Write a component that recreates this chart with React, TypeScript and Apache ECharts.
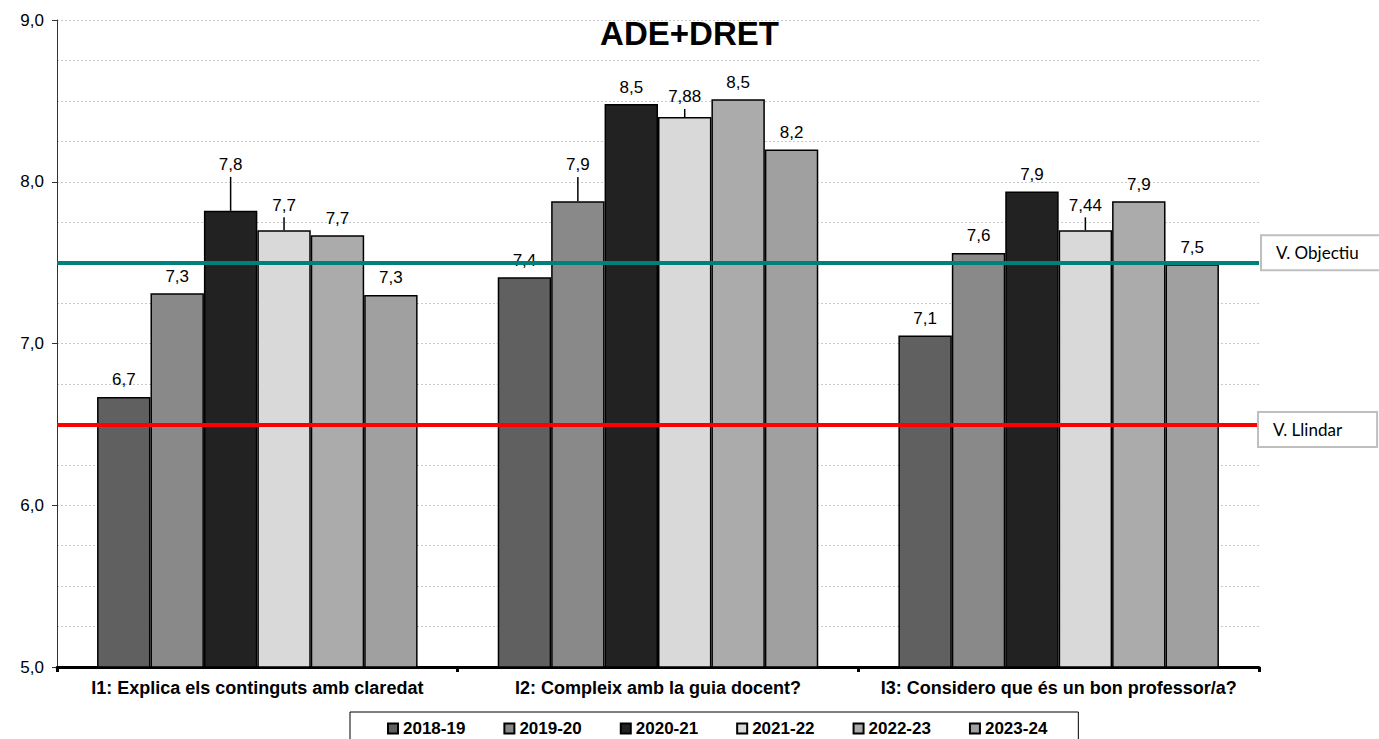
import React, { useEffect, useRef } from "react";
import * as echarts from "echarts";

const title = "ADE+DRET";
const categories = [
  "I1: Explica els continguts amb claredat",
  "I2: Compleix amb la guia docent?",
  "I3: Considero que és un bon professor/a?",
];
const years = ["2018-19", "2019-20", "2020-21", "2021-22", "2022-23", "2023-24"];

const values2018_19 = [6.67, 7.41, 7.05];
const values2019_20 = [7.31, 7.88, 7.56];
const values2020_21 = [7.82, 8.48, 7.94];
const values2021_22 = [7.7, 8.4, 7.7];
const values2022_23 = [7.67, 8.51, 7.88];
const values2023_24 = [7.3, 8.2, 7.49];

const labels2018_19 = ["6,7", "7,4", "7,1"];
const labels2019_20 = ["7,3", "7,9", "7,6"];
const labels2020_21 = ["7,8", "8,5", "7,9"];
const labels2021_22 = ["7,7", "7,88", "7,44"];
const labels2022_23 = ["7,7", "8,5", "7,9"];
const labels2023_24 = ["7,3", "8,2", "7,5"];

// upper end of the error bar (null = no error bar)
const errTop2018_19 = [null, null, null];
const errTop2019_20 = [null, 8.03, null];
const errTop2020_21 = [8.03, null, null];
const errTop2021_22 = [7.78, 8.45, 7.78];
const errTop2022_23 = [null, null, null];
const errTop2023_24 = [null, null, null];

const objectiuValue = 7.5;
const llindarValue = 6.5;
const yTicks = [5, 6, 7, 8, 9];

const seriesValues = [values2018_19, values2019_20, values2020_21, values2021_22, values2022_23, values2023_24];
const seriesLabels = [labels2018_19, labels2019_20, labels2020_21, labels2021_22, labels2022_23, labels2023_24];
const seriesErr = [errTop2018_19, errTop2019_20, errTop2020_21, errTop2021_22, errTop2022_23, errTop2023_24];
const colors = ["#606060", "#898989", "#222222", "#d9d9d9", "#ababab", "#a0a0a0"];

const FONT = "'Liberation Sans', Arial, sans-serif";

export default function App() {
  const ref = useRef<HTMLDivElement>(null);
  useEffect(() => {
    const chart = echarts.init(ref.current!, null, { renderer: "svg" });
    const nSeries = years.length;
    const annData: number[][] = [];
    const annLabels: string[] = [];
    years.forEach((_, s) => {
      categories.forEach((_, k) => {
        const v = seriesValues[s][k];
        const e = seriesErr[s][k];
        annData.push([k, s, v, e == null ? v : e, e == null ? 0 : 1]);
        annLabels.push(seriesLabels[s][k]);
      });
    });

    const barSeries = years.map((y, i) => ({
      name: y,
      type: "bar",
      data: seriesValues[i],
      barGap: "0%",
      barCategoryGap: "20%",
      itemStyle: { color: colors[i], borderColor: "#000", borderWidth: 1.5 },
      z: 2,
    }));

    chart.setOption({
      animation: false,
      title: {
        text: title,
        left: "center",
        top: 12,
        textStyle: { fontFamily: FONT, fontSize: 33, fontWeight: "bold", color: "#000" },
      },
      grid: { left: 57, right: 120, top: 20, bottom: 72, containLabel: false },
      legend: {
        data: years,
        left: 350,
        top: 712,
        icon: "rect",
        itemWidth: 10,
        itemHeight: 10,
        itemGap: 38,
        padding: [8, 31, 12, 37],
        borderColor: "#000",
        borderWidth: 1,
        textStyle: { fontFamily: FONT, fontSize: 17, fontWeight: "bold", color: "#000" },
      },
      xAxis: {
        type: "category",
        data: categories,
        axisLine: { show: true, lineStyle: { color: "#000", width: 3 } },
        axisTick: { show: true, length: 5, lineStyle: { color: "#000", width: 3 } },
        axisLabel: {
          fontFamily: FONT,
          fontSize: 18,
          fontWeight: "bold",
          color: "#000",
          margin: 12,
          interval: 0,
        },
        splitLine: { show: false },
      },
      yAxis: {
        type: "value",
        min: yTicks[0],
        max: yTicks[yTicks.length - 1],
        interval: 1,
        axisLine: { show: true, lineStyle: { color: "#333", width: 1 } },
        axisTick: { show: true, length: 5, lineStyle: { color: "#333" } },
        axisLabel: {
          fontFamily: FONT,
          fontSize: 17,
          color: "#000",
          margin: 13,
          formatter: (v: number) => v.toFixed(1).replace(".", ","),
        },
        splitLine: { show: true, lineStyle: { color: "#c8c8c8", type: [2, 2], width: 1 } },
        minorTick: { show: false, splitNumber: 4 },
        minorSplitLine: { show: true, lineStyle: { color: "#c8c8c8", type: [2, 2], width: 1 } },
      },
      series: [
        ...barSeries,
        {
          type: "custom",
          name: "annotations",
          data: annData,
          encode: { x: 0, y: 3 },
          z: 3,
          silent: true,
          renderItem: (params: any, api: any) => {
            const k = api.value(0);
            const s = api.value(1);
            const v = api.value(2);
            const top = api.value(3);
            const hasErr = api.value(4) === 1;
            const band = api.size([1, 0])[0];
            const bw = (band * 0.8) / nSeries;
            const base = api.coord([k, v]);
            const x = base[0] - band * 0.4 + bw * (s + 0.5);
            const yBar = base[1];
            const yTop = api.coord([k, top])[1];
            const children: any[] = [];
            if (hasErr) {
              children.push({
                type: "line",
                shape: { x1: x, y1: yBar, x2: x, y2: yTop },
                style: { stroke: "#000", lineWidth: 1.5 },
              });
            }
            children.push({
              type: "text",
              x,
              y: yTop - (hasErr ? 12 : 17),
              style: {
                text: annLabels[params.dataIndex],
                align: "center",
                verticalAlign: "middle",
                fontSize: 17,
                fontFamily: FONT,
                fill: "#000",
              },
            });
            return { type: "group", children };
          },
        },
        {
          type: "line",
          name: "refs",
          data: [],
          z: 10,
          markLine: {
            symbol: "none",
            silent: true,
            animation: false,
            data: [
              {
                yAxis: objectiuValue,
                lineStyle: { color: "#00807a", width: 4, type: "solid" },
                label: {
                  show: true,
                  position: "end",
                  distance: 3,
                  offset: [0, -10],
                  formatter: "V. Objectiu",
                  fontFamily: "Lato, 'Open Sans', sans-serif",
                  fontSize: 17,
                  color: "#000",
                  backgroundColor: "#fff",
                  borderColor: "#bfbfbf",
                  borderWidth: 2,
                  padding: [8, 34, 8, 14],
                },
              },
              {
                yAxis: llindarValue,
                lineStyle: { color: "#ff0000", width: 4, type: "solid" },
                label: {
                  show: true,
                  position: "end",
                  distance: 0,
                  offset: [0, 5],
                  formatter: "V. Llindar",
                  fontFamily: "Lato, 'Open Sans', sans-serif",
                  fontSize: 17,
                  color: "#000",
                  backgroundColor: "#fff",
                  borderColor: "#bfbfbf",
                  borderWidth: 2,
                  padding: [8, 34, 8, 14],
                },
              },
            ],
          },
        },
      ],
    });
    return () => chart.dispose();
  }, []);
  return (
    <div
      ref={ref}
      style={{ position: "fixed", left: 0, top: 0, width: 1379, height: 739, background: "#fff" }}
    />
  );
}
